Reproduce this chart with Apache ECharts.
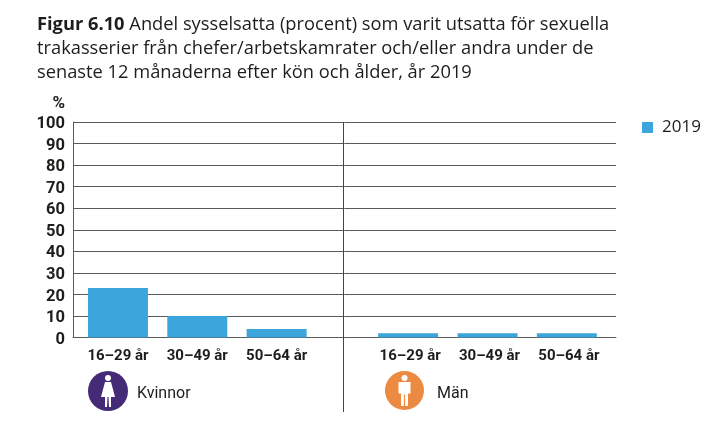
<!DOCTYPE html>
<html><head><meta charset="utf-8">
<style>html,body{margin:0;padding:0;background:#fff}#c{width:720px;height:428px}</style>
<script src="https://cdn.jsdelivr.net/npm/echarts@6/dist/echarts.min.js"></script>
</head><body><div id="c"></div>
<script>
const ageGroups = ['16–29 år','30–49 år','50–64 år'];
const women2019 = [23,10,4];
const men2019 = [2,2,2];
const seriesName = '2019';
const yTicks = {min:0,max:100,interval:10};
const titleBold = 'Figur 6.10';
const titleLines = [' Andel sysselsatta (procent) som varit utsatta för sexuella',
 'trakasserier från chefer/arbetskamrater och/eller andra under de',
 'senaste 12 månaderna efter kön och ålder, år 2019'];
const BLUE='#3ca6dc', INK='#1d1d1b', LINE='#5a5a5a';
const FONT='Roboto,"Liberation Sans",sans-serif';
const TFONT='"Open Sans",sans-serif';
const chart = echarts.init(document.getElementById('c'),null,{renderer:'canvas'});
const barAxis = (gi,pad)=>({type:'category',gridIndex:gi,data:ageGroups,
  axisLine:{show:false},axisTick:{show:false},
  axisLabel:{color:INK,fontFamily:FONT,fontWeight:'bold',fontSize:15,margin:11,interval:0,padding:[0,0,0,pad]}});
const hiddenY = (gi)=>({type:'value',gridIndex:gi,min:0,max:100,show:false});
chart.setOption({
  animation:false,backgroundColor:'#fff',
  title:{left:32,top:8,itemGap:0,
    text:`{b|${titleBold}}{n|${titleLines[0]}}\n{n|${titleLines[1]}}\n{n|${titleLines[2]}}`,
    textStyle:{fontWeight:'normal',rich:{
      b:{fontFamily:TFONT,fontWeight:'bold',fontSize:18.3,lineHeight:24,color:INK},
      n:{fontFamily:TFONT,fontWeight:'normal',fontSize:18.3,lineHeight:24,color:INK}}}},
  legend:{show:true,left:637,top:114,itemWidth:11,itemHeight:11,itemGap:13,
    icon:'rect',textStyle:{color:INK,fontFamily:TFONT,fontSize:17,padding:[0,0,0,4]},
    data:[seriesName]},
  grid:[
    {left:73,width:543,top:122,height:215.5},
    {left:78.3,width:238,top:122,height:215.5},
    {left:368.5,width:238,top:122,height:215.5}],
  xAxis:[
    {type:'category',gridIndex:0,data:[],axisTick:{show:false},axisLabel:{show:false},axisLine:{show:true,lineStyle:{color:LINE,width:1}}},
    barAxis(1,0),barAxis(2,4)],
  yAxis:[
    {type:'value',gridIndex:0,min:yTicks.min,max:yTicks.max,interval:yTicks.interval,
     name:'%',nameLocation:'end',nameGap:10,nameTextStyle:{color:INK,fontFamily:FONT,fontWeight:'bold',fontSize:17,align:'right',padding:[0,8,0,0]},
     axisLine:{show:true,lineStyle:{color:LINE,width:1}},axisTick:{show:false},
     axisLabel:{color:INK,fontFamily:FONT,fontWeight:'bold',fontSize:16.5,margin:8,verticalAlign:'top',lineHeight:4},
     splitLine:{show:true,lineStyle:{color:LINE,width:1}}},
    hiddenY(1),hiddenY(2)],
  series:[
    {name:seriesName,type:'bar',xAxisIndex:1,yAxisIndex:1,data:women2019,barWidth:60,itemStyle:{color:BLUE},z:3},
    {name:seriesName,type:'bar',xAxisIndex:2,yAxisIndex:2,data:men2019,barWidth:60,itemStyle:{color:BLUE},z:3}],
  graphic:[
    {type:'line',shape:{x1:343.5,y1:122,x2:343.5,y2:412},style:{stroke:'#444',lineWidth:1},z:5},
    {type:'group',x:108,y:391,children:[
      {type:'circle',shape:{cx:0,cy:0,r:20},style:{fill:'#452a78'}},
      {type:'circle',shape:{cx:0,cy:-13,r:3},style:{fill:'#fff'}},
      {type:'polygon',shape:{points:[[-3,-9],[3,-9],[7,6],[3,6],[3,16],[1,16],[0.5,6],[-0.5,6],[-1,16],[-3,16],[-3,6],[-7,6]]},style:{fill:'#fff'}}]},
    {type:'text',x:137,y:386,style:{text:'Kvinnor',fill:INK,fontFamily:FONT,fontSize:16}},
    {type:'group',x:404.5,y:390.5,children:[
      {type:'circle',shape:{cx:0,cy:0,r:19.5},style:{fill:'#ec8a42'}},
      {type:'circle',shape:{cx:0,cy:-12.5,r:3},style:{fill:'#fff'}},
      {type:'polygon',shape:{points:[[-6,-8.5],[6,-8.5],[6,3],[3.5,3],[3.5,15.5],[0.6,15.5],[0.6,4],[-0.6,4],[-0.6,15.5],[-3.5,15.5],[-3.5,3],[-6,3]]},style:{fill:'#fff'}}]},
    {type:'text',x:437,y:386,style:{text:'Män',fill:INK,fontFamily:FONT,fontSize:16}}
  ]
});
</script></body></html>
